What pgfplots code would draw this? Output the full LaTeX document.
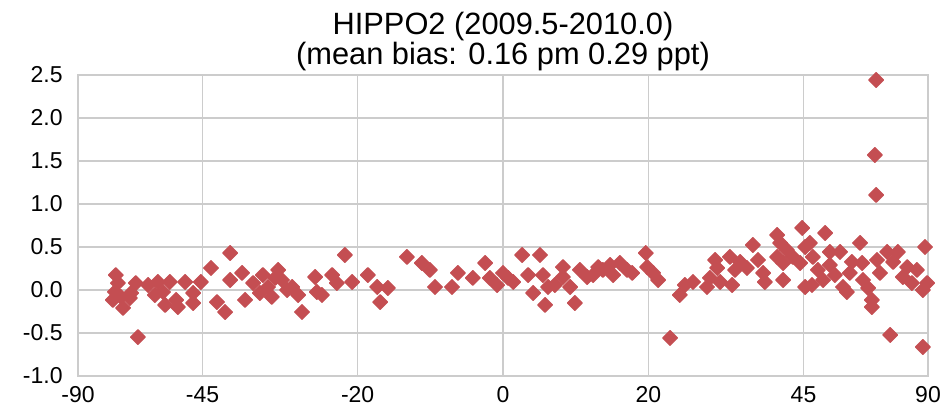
\documentclass[border=0pt]{standalone}
\usepackage{pgfplots}
\pgfplotsset{compat=1.18}
\usepackage{fontspec}
\setmainfont{Liberation Sans}
\definecolor{gridc}{RGB}{204,204,204}
\definecolor{ptc}{RGB}{196,78,82}
\begin{document}
\begin{tikzpicture}
\begin{axis}[
  at={(0,0)}, anchor=south west,
  scale only axis, width=425pt, height=150.5pt,
  xmin=-1, xmax=1, ymin=-1, ymax=2.5,
  xtick={-1,-0.70711,-0.34202,0,0.34202,0.70711,1},
  xticklabels={-90,-45,-20,0,20,45,90},
  ytick={-1,-0.5,0,0.5,1,1.5,2,2.5},
  /pgf/number format/fixed,
  /pgf/number format/fixed zerofill,
  /pgf/number format/precision=1,
  /pgf/number format/assume math mode=true,
  ticklabel style={font=\fontsize{11.5}{13}\selectfont, inner sep=0pt},
  yticklabel style={xshift=-7.5pt},
  xticklabel style={yshift=-5pt},
  major tick length=0pt,
  grid=major,
  major grid style={gridc, line width=0.6pt},
  axis line style={gridc, line width=0.6pt},
  title={HIPPO2 (2009.5-2010.0)\\(mean bias: 0.16 pm 0.29 ppt)},
  title style={align=center, font=\fontsize{15.4}{15}\selectfont, anchor=south, inner sep=0pt, yshift=-4pt},
]
\addplot[only marks, mark=square*, mark size=2.6pt,
  mark options={rotate=45, fill=ptc, draw=ptc, line join=round, line width=0.6pt}]
table {
x y
-0.911 0.174
-0.906 0.081
-0.913 -0.023
-0.899 -0.081
-0.918 -0.116
-0.894 -0.209
-0.864 0.081
-0.875 -0.035
-0.878 -0.093
-0.859 -0.547
-0.835 0.058
-0.812 0.093
-0.819 -0.058
-0.800 -0.023
-0.795 -0.174
-0.784 0.093
-0.769 -0.116
-0.765 -0.198
-0.748 0.093
-0.729 -0.035
-0.729 -0.151
-0.711 0.093
-0.687 0.256
-0.673 -0.140
-0.654 -0.256
-0.642 0.430
-0.642 0.116
-0.614 0.198
-0.607 -0.116
-0.588 0.081
-0.572 -0.035
-0.565 0.174
-0.553 0.035
-0.544 -0.081
-0.529 0.233
-0.520 0.116
-0.536 0.140
-0.508 0.000
-0.496 0.035
-0.482 -0.058
-0.473 -0.256
-0.442 0.151
-0.438 -0.023
-0.426 -0.058
-0.402 0.174
-0.391 0.081
-0.372 0.407
-0.355 0.093
-0.318 0.174
-0.296 0.035
-0.289 -0.140
-0.271 0.023
-0.226 0.384
-0.191 0.314
-0.172 0.233
-0.160 0.035
-0.120 0.035
-0.106 0.198
-0.071 0.140
-0.042 0.314
-0.031 0.140
-0.014 0.058
0.000 0.198
0.012 0.140
0.024 0.093
0.045 0.407
0.059 0.174
0.071 -0.035
0.087 0.407
0.099 -0.174
0.094 0.174
0.106 0.035
0.122 0.058
0.141 0.267
0.141 0.151
0.158 0.035
0.169 -0.151
0.181 0.233
0.198 0.151
0.212 0.174
0.224 0.267
0.235 0.233
0.252 0.291
0.259 0.174
0.275 0.314
0.292 0.233
0.304 0.198
0.336 0.430
0.339 0.267
0.353 0.198
0.365 0.116
0.393 -0.558
0.416 -0.058
0.428 0.058
0.447 0.093
0.480 0.035
0.487 0.140
0.499 0.349
0.504 0.256
0.511 0.093
0.534 0.384
0.539 0.058
0.546 0.233
0.558 0.326
0.574 0.256
0.588 0.523
0.600 0.349
0.612 0.198
0.616 0.093
0.645 0.640
0.652 0.547
0.645 0.384
0.659 0.314
0.659 0.116
0.668 0.465
0.699 0.314
0.704 0.721
0.711 0.500
0.711 0.035
0.729 0.384
0.741 0.233
0.758 0.663
0.753 0.116
0.769 0.442
0.781 0.174
0.793 0.442
0.800 0.035
0.816 0.198
0.821 0.326
0.840 0.547
0.845 0.314
0.847 0.116
0.859 0.023
0.868 -0.116
0.868 -0.198
0.880 0.349
0.887 0.198
0.904 0.442
0.911 -0.523
0.929 0.442
0.951 0.267
0.962 0.081
0.974 0.233
0.988 -0.663
0.993 0.500
0.998 0.081
0.878 2.442
0.875 1.570
0.878 1.105
0.682 0.384
0.722 0.547
0.769 0.291
0.809 -0.023
0.918 0.326
0.941 0.151
0.988 0.000
0.727 0.058
};
\end{axis}
\pgfresetboundingbox
\path[use as bounding box] (-39pt,-17.5pt) rectangle (435pt,188pt);
\end{tikzpicture}
\end{document}
